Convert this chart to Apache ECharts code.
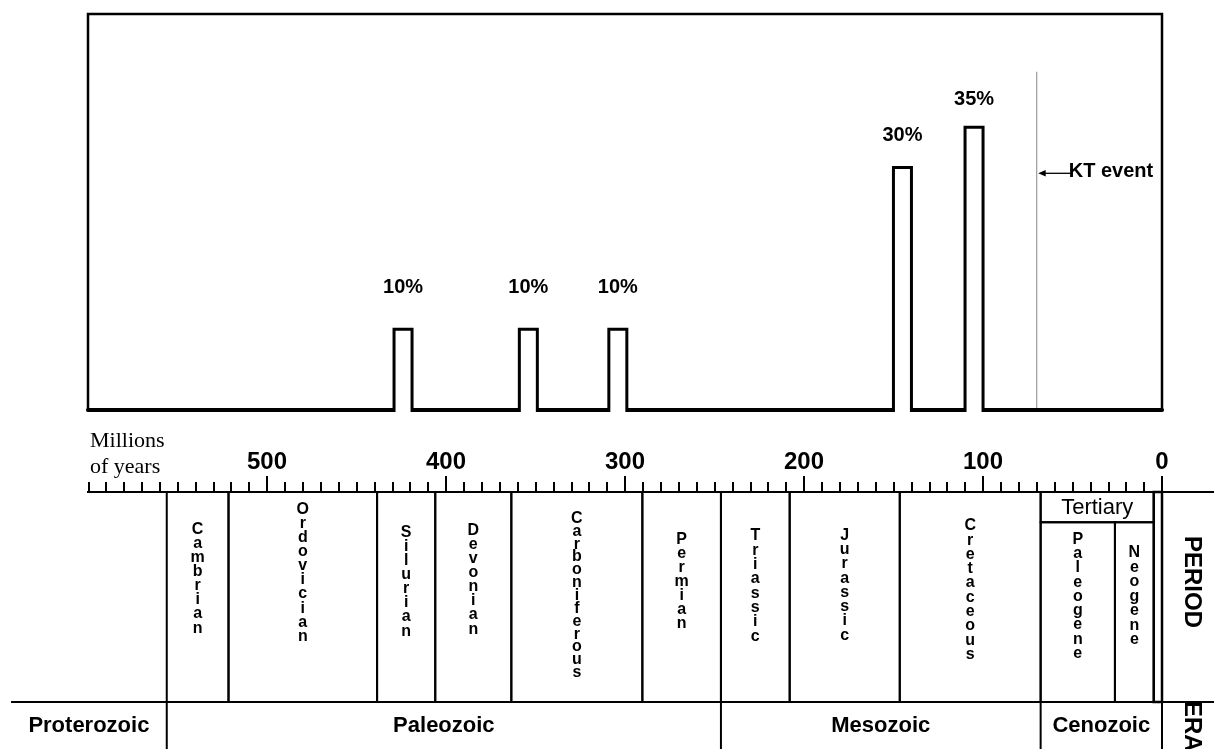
<!DOCTYPE html>
<html><head><meta charset="utf-8">
<script src="https://cdn.jsdelivr.net/npm/echarts@6/dist/echarts.min.js"></script>
<style>html,body{margin:0;padding:0;background:#fff}#c{width:1214px;height:749px}</style>
</head><body><div id="c"></div>
<script>
// ---------- data ----------
const ageTicks = [0, 100, 200, 300, 400, 500];          // Millions of years
const axisMax = 600;
const barAges = [424, 354, 304, 145, 105];               // Ma
const barValues = [10, 10, 10, 30, 35];                  // %
const ktAge = 70;
const ktLabel = 'KT event';
const periodNames = ['Cambrian', 'Ordovician', 'Silurian', 'Devonian', 'Carboniferous', 'Permian',
                     'Triassic', 'Jurassic', 'Cretaceous', 'Paleogene', 'Neogene'];
const periodStart = [556, 521.5, 438.5, 406, 363.5, 290.3, 246.4, 208, 146.5, 67.8, 26.3];
const periodEnd   = [521.5, 438.5, 406, 363.5, 290.3, 246.4, 208, 146.5, 67.8, 26.3, 4.6];
const periodLevel = [0, 0, 0, 0, 0, 0, 0, 0, 0, 1, 1];   // 1 = sub-period of Tertiary
const subEraName = 'Tertiary';
const subEraStart = 67.8, subEraEnd = 4.6;
const lastPeriodStart = 4.6, lastPeriodEnd = 0;          // unlabeled
const eraNames = ['Proterozoic', 'Paleozoic', 'Mesozoic', 'Cenozoic'];
const eraStart = [643, 556, 246.4, 67.8];
const eraEnd   = [556, 246.4, 67.8, 0];
const axisName = 'Millions\nof years';
const rowNames = ['PERIOD', 'ERA'];

// ---------- layout / style (pixels) ----------
const FONT = 'Liberation Sans';
const L = {
  barHalf: 9, barStroke: 3,
  labelGap: [41.7, 41.7, 41.7, 31.7, 27.6],
  ktTopOffset: 57.7, arrowOffset: 159.3,
  tertiaryH: 30.3,
  periodTop: [29.7, 9.7, 33, 31.3, 19.7, 39.7, 36.3, 35.7, 26.3, 39.7, 53],
  periodPitch: [14.14, 14.15, 14.1, 14.06, 12.85, 14.1, 14.35, 14.3, 14.3, 14.3, 14.55],
  letterFont: 16, letterScale: 1.08
};

function renderBar(params, api) {
  const i = params.dataIndex;
  const base = api.coord([api.value(0), 0]);
  const top = api.coord([api.value(0), api.value(1)]);
  const cx = base[0], h = L.barHalf;
  return { type: 'group', children: [
    { type: 'rect', shape: { x: cx - h, y: top[1], width: 2 * h, height: base[1] + 2 - top[1] }, style: { fill: '#fff' } },
    { type: 'polyline', shape: { points: [[cx - h, base[1] + 2], [cx - h, top[1]], [cx + h, top[1]], [cx + h, base[1] + 2]] },
      style: { fill: 'none', stroke: '#000', lineWidth: L.barStroke } },
    { type: 'text', style: { text: api.value(1) + '%', x: cx, y: top[1] - L.labelGap[i], align: 'center', verticalAlign: 'middle',
      fontSize: 20, fontWeight: 'bold', fontFamily: FONT, fill: '#000' } }
  ]};
}

function renderKT(params, api) {
  const cs = params.coordSys;
  const p = api.coord([api.value(0), 0]);
  const x = p[0];
  const ay = cs.y + L.arrowOffset;
  return { type: 'group', children: [
    { type: 'line', shape: { x1: x, y1: cs.y + L.ktTopOffset, x2: x, y2: p[1] - 2 }, style: { stroke: '#999', lineWidth: 1.2 } },
    { type: 'line', shape: { x1: x + 7, y1: ay, x2: x + 35, y2: ay }, style: { stroke: '#000', lineWidth: 1.3 } },
    { type: 'polygon', shape: { points: [[x + 1.5, ay], [x + 9, ay - 3.2], [x + 9, ay + 3.2]] }, style: { fill: '#000' } },
    { type: 'text', style: { text: ktLabel, x: x + 32, y: ay - 2, align: 'left', verticalAlign: 'middle',
      fontSize: 20, fontWeight: 'bold', fontFamily: FONT, fill: '#000' } }
  ]};
}

function renderPeriod(params, api) {
  const i = params.dataIndex, cs = params.coordSys;
  const x0 = api.coord([api.value(0), 0])[0];
  const x1 = api.coord([api.value(1), 0])[0];
  const top = cs.y + (periodLevel[i] ? L.tertiaryH : 0);
  const bottom = cs.y + cs.height;
  const s = L.letterScale;
  return { type: 'group', children: [
    { type: 'rect', shape: { x: x0, y: top, width: x1 - x0, height: bottom - top }, style: { fill: 'none', stroke: '#000', lineWidth: 2 } },
    { type: 'text', x: (x0 + x1) / 2, y: cs.y + L.periodTop[i], scaleY: s,
      style: { text: periodNames[i].split('').join('\n'), x: 0, y: 0, align: 'center', verticalAlign: 'top',
        fontSize: L.letterFont, fontWeight: 'bold', fontFamily: FONT, lineHeight: L.periodPitch[i] / s, fill: '#000' } }
  ]};
}

function renderEra(params, api) {
  const i = params.dataIndex, cs = params.coordSys;
  const x0 = api.coord([api.value(0), 0])[0];
  const x1 = api.coord([api.value(1), 0])[0];
  const top = cs.y + cs.height;
  return { type: 'group', children: [
    { type: 'line', shape: { x1: x1, y1: top, x2: x1, y2: api.getHeight() + 2 }, style: { stroke: '#000', lineWidth: 2 } },
    { type: 'text', style: { text: eraNames[i], x: (x0 + x1) / 2, y: top + 23.5, align: 'center', verticalAlign: 'middle',
      fontSize: 22, fontWeight: 'bold', fontFamily: FONT, fill: '#000' } }
  ]};
}

function renderFrame(params, api) {
  const cs = params.coordSys;
  const W = api.getWidth(), H = api.getHeight();
  const top = cs.y, bottom = cs.y + cs.height;
  const xz = api.coord([lastPeriodEnd, 0])[0];
  const xq = api.coord([lastPeriodStart, 0])[0];
  const xt0 = api.coord([subEraStart, 0])[0];
  const xt1 = api.coord([subEraEnd, 0])[0];
  const xl = api.coord([eraStart[0], 0])[0];
  const xm = api.coord([axisMax, 0])[0];
  const blk = { stroke: '#000', lineWidth: 2 };
  return { type: 'group', children: [
    { type: 'line', shape: { x1: xm + 1, y1: top, x2: xm + 1, y2: top - 10 }, style: blk },
    { type: 'line', shape: { x1: xm - 1, y1: top, x2: xm + 2, y2: top }, style: blk },
    { type: 'line', shape: { x1: xz, y1: top, x2: W + 2, y2: top }, style: blk },
    { type: 'line', shape: { x1: xl, y1: bottom, x2: W + 2, y2: bottom }, style: blk },
    { type: 'rect', shape: { x: xt0, y: top, width: xt1 - xt0, height: L.tertiaryH }, style: { fill: 'none', stroke: '#000', lineWidth: 2 } },
    { type: 'text', style: { text: subEraName, x: (xt0 + xt1) / 2, y: top + 16, align: 'center', verticalAlign: 'middle',
      fontSize: 22, fontFamily: FONT, fill: '#000' } },
    { type: 'rect', shape: { x: xq, y: top, width: xz - xq, height: bottom - top }, style: { fill: 'none', stroke: '#000', lineWidth: 2.5 } },
    { type: 'line', shape: { x1: xz, y1: top, x2: xz, y2: H + 2 }, style: blk },
    { type: 'text', x: xz + 29.5, y: top + 90, rotation: -Math.PI / 2,
      style: { text: rowNames[0], x: 0, y: 0, align: 'center', verticalAlign: 'middle', fontSize: 24, fontWeight: 'bold', fontFamily: FONT, fill: '#000' } },
    { type: 'text', x: xz + 29.5, y: bottom - 1, rotation: -Math.PI / 2,
      style: { text: rowNames[1], x: 0, y: 0, align: 'left', verticalAlign: 'middle', fontSize: 24, fontWeight: 'bold', fontFamily: FONT, fill: '#000' } }
  ]};
}

const chart = echarts.init(document.getElementById('c'), null, { renderer: 'canvas' });
chart.setOption({
  animation: false,
  backgroundColor: '#fff',
  title: { text: axisName, left: 90, top: 428, padding: 0,
    textStyle: { fontFamily: 'Liberation Serif', fontSize: 22, fontWeight: 'normal', lineHeight: 26, color: '#000' } },
  grid: [
    { left: 88, right: 52, top: 14, height: 396, show: true, borderColor: '#000', borderWidth: 2.5, backgroundColor: 'transparent', outerBoundsMode: 'none' },
    { left: 88, right: 52, top: 492, height: 210, show: false, outerBoundsMode: 'none' }
  ],
  xAxis: [
    { gridIndex: 0, type: 'value', inverse: true, min: 0, max: axisMax,
      axisLine: { show: true, lineStyle: { color: '#000', width: 4 } },
      axisTick: { show: false }, axisLabel: { show: false }, splitLine: { show: false } },
    { gridIndex: 1, type: 'value', position: 'top', inverse: true, min: 0, max: axisMax, interval: 100,
      axisLine: { show: true, onZero: false, lineStyle: { color: '#000', width: 2 } },
      axisTick: { show: true, length: 16, customValues: ageTicks, lineStyle: { color: '#000', width: 2 } },
      minorTick: { show: true, splitNumber: 10, length: 10, lineStyle: { color: '#000', width: 2 } },
      axisLabel: { show: true, customValues: ageTicks, margin: 18, fontSize: 24, fontWeight: 'bold', fontFamily: FONT, color: '#000' },
      splitLine: { show: false }, minorSplitLine: { show: false } }
  ],
  yAxis: [
    { gridIndex: 0, type: 'value', min: 0, max: 49, show: false },
    { gridIndex: 1, type: 'value', min: 0, max: 1, show: false }
  ],
  series: [
    { type: 'custom', xAxisIndex: 0, yAxisIndex: 0, clip: false, z: 5, renderItem: renderBar,
      encode: { x: 0, y: 1 }, data: barAges.map((a, i) => [a, barValues[i]]) },
    { type: 'custom', xAxisIndex: 0, yAxisIndex: 0, clip: false, z: 4, renderItem: renderKT,
      encode: { x: 0, y: 1 }, data: [[ktAge, 0]] },
    { type: 'custom', xAxisIndex: 1, yAxisIndex: 1, clip: false, z: 5, renderItem: renderPeriod,
      encode: { x: [0, 1], y: 2 }, data: periodStart.map((s, i) => [s, periodEnd[i], 0]) },
    { type: 'custom', xAxisIndex: 1, yAxisIndex: 1, clip: false, z: 5, renderItem: renderEra,
      encode: { x: [0, 1], y: 2 }, data: eraStart.map((s, i) => [s, eraEnd[i], 0]) },
    { type: 'custom', xAxisIndex: 1, yAxisIndex: 1, clip: false, z: 5, renderItem: renderFrame,
      encode: { x: 0, y: 1 }, data: [[0, 0]] }
  ]
});
</script></body></html>
